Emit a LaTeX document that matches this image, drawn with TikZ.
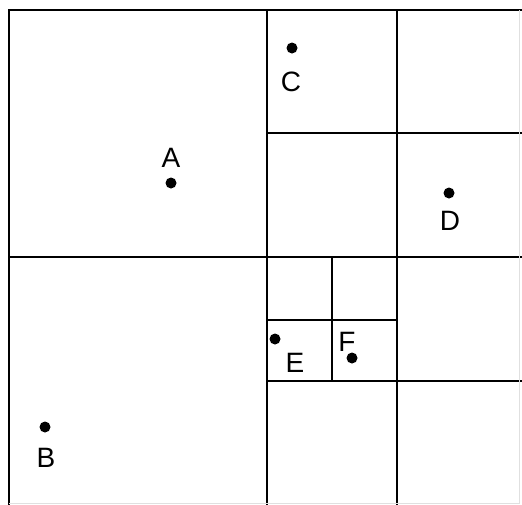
\documentclass[tikz,border=0pt]{standalone}
\usepackage{fontspec}
\setmainfont{Liberation Sans}

\begin{document}
\begin{tikzpicture}[
x=1pt, y=-1pt,
cell/.style={
line width=2pt,
line cap=rect
},
pt/.style={
circle,
fill=black,
inner sep=0pt,
minimum size=11pt
},
lbl/.style={
font=\fontsize{28}{28}\selectfont,
inner sep=0pt
}
]

\useasboundingbox (0,0) rectangle (522,504);

% quadtree cells
\draw [cell] (9,504) -- (9,10) -- (522,10);
\draw [cell] (267,10) -- (267,504);
\draw [cell] (9,257) -- (522,257);
\draw [cell] (397,10) -- (397,504);
\draw [cell] (267,133) -- (522,133);
\draw [cell] (267,381) -- (522,381);
\draw [cell] (332,257) -- (332,381);
\draw [cell] (267,320) -- (397,320);
\draw [black!12, line width=1pt] (9,503) -- (519,503) -- (519,10);

% points
\node (a) [pt] at (171,183) {};
\node (b) [pt] at (45,427) {};
\node (c) [pt] at (292,48) {};
\node (d) [pt] at (449,193) {};
\node (e) [pt] at (275,339) {};
\node (f) [pt] at (352,358) {};

\node (la) [lbl] at (171,158) {A};
\node (lb) [lbl] at (46,458) {B};
\node (lc) [lbl] at (291,82) {C};
\node (ld) [lbl] at (450,221) {D};
\node (le) [lbl] at (295,363) {E};
\node (lf) [lbl] at (347,342) {F};

\end{tikzpicture}
\end{document}
